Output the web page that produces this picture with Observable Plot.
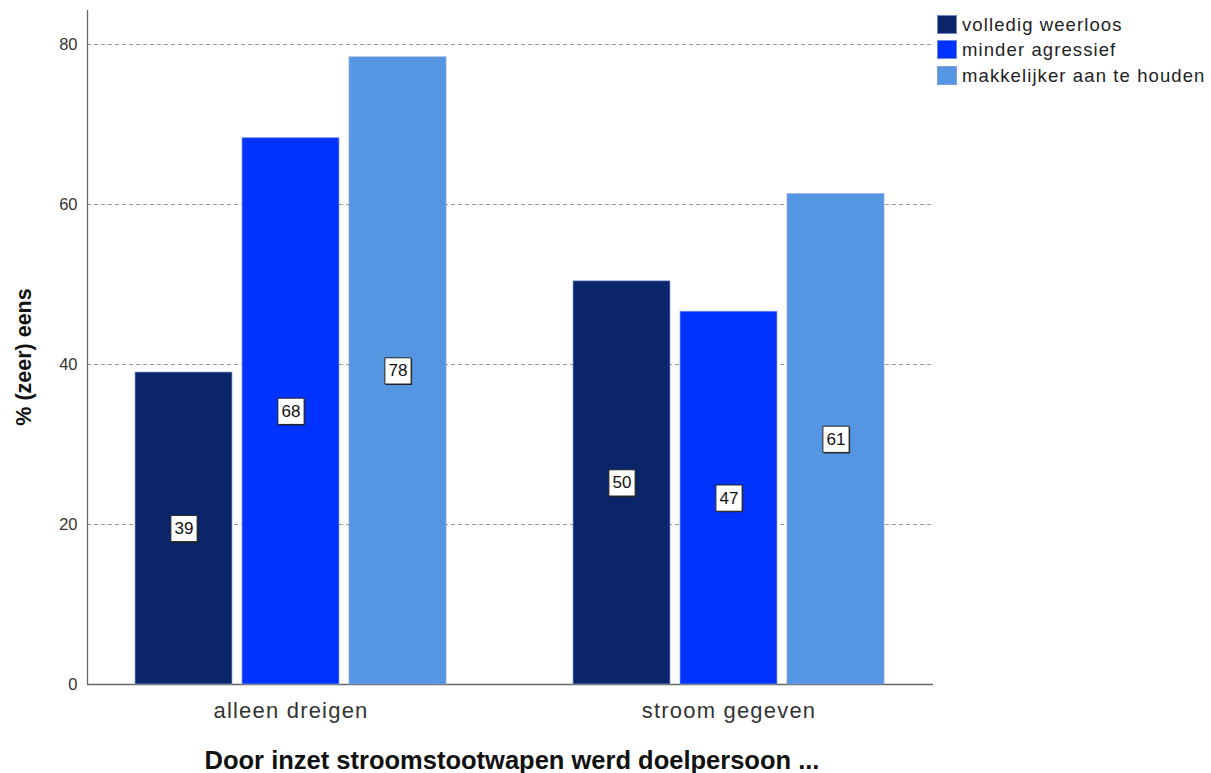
<!DOCTYPE html>
<html>
<head>
<meta charset="utf-8">
<script src="https://cdn.jsdelivr.net/npm/d3@7"></script>
<script src="https://cdn.jsdelivr.net/npm/@observablehq/plot@0.6"></script>
<style>
  html, body { margin: 0; padding: 0; background: #fff; }
  #wrap { position: relative; width: 1211px; height: 773px; font-family: "Liberation Sans", Arial, sans-serif; }
  #wrap svg { position: absolute; left: 0; top: 0; }
  .fgplot g[aria-label="fx-axis tick label"] text { letter-spacing: 1.2px; }
  .ylab { position: absolute; left: 24px; top: 357px; transform: translate(-50%, -50%) rotate(-90deg); font-weight: bold; font-size: 21.5px; color: #111; white-space: nowrap; }
  .xlab { position: absolute; left: 512px; top: 760px; transform: translate(-50%, -50%); font-weight: bold; font-size: 25.5px; color: #111; white-space: nowrap; }
  .legend { position: absolute; left: 937px; top: 0; font-size: 18.5px; letter-spacing: 1.1px; color: #222; }
  .legend .row { position: absolute; left: 0; height: 20px; display: flex; align-items: center; white-space: nowrap; }
  .legend .sw { width: 20px; height: 19px; margin-right: 5px; box-sizing: border-box; border: 1px solid rgba(140,160,220,0.8); }
  .legend .tx { position: relative; top: 1px; }
</style>
</head>
<body>
<div id="wrap"></div>
<script>
const groups = ["alleen dreigen", "stroom gegeven"];
const series = ["volledig weerloos", "minder agressief", "makkelijker aan te houden"];
const valuesAlleenDreigen = [39.0, 68.3, 78.4];
const valuesStroomGegeven = [50.4, 46.6, 61.3];
const colors = ["#0a2569", "#0033ff", "#5596e3"];
const yTicks = [0, 20, 40, 60, 80];
const yLabel = "% (zeer) eens";
const xLabel = "Door inzet stroomstootwapen werd doelpersoon ...";

const data = [];
[valuesAlleenDreigen, valuesStroomGegeven].forEach((vals, gi) => {
  vals.forEach((v, si) => data.push({group: groups[gi], series: series[si], value: v}));
});

const W = 1211, H = 773;
const margins = {marginLeft: 87, marginRight: 278, marginTop: 10, marginBottom: 89};
const font = '"Liberation Sans", Arial, sans-serif';
const yScale = {domain: [0, 84.25], axis: null};
const fmt = d3.format(".0f");

const wrap = document.getElementById("wrap");

// background: grid lines and axes
const bg = Plot.plot({
  width: W, height: H, ...margins,
  style: {fontFamily: font, background: "white", color: "#333"},
  x: {domain: [0, 1], axis: null},
  y: yScale,
  marks: [
    Plot.ruleY(yTicks.filter(d => d > 0), {y: d => d, stroke: "#9a9a9a", strokeDasharray: "4,3", strokeWidth: 1}),
    Plot.axisY(yTicks, {tickSize: 0, tickPadding: 10, fontSize: 16.5, label: null, fill: "#333"}),
    Plot.ruleX([0], {stroke: "#666", strokeWidth: 1.3}),
    Plot.ruleY([0], {stroke: "#666", strokeWidth: 1.3})
  ]
});
wrap.appendChild(bg);

// foreground: bars, labels, category axis
const fg = Plot.plot({
  width: W, height: H, ...margins,
  className: "fgplot",
  style: {fontFamily: font, background: "transparent", color: "#333"},
  fx: {domain: groups, paddingInner: 0.262, paddingOuter: 0.0957, label: null},
  x: {domain: series, paddingInner: 0.0926, paddingOuter: 0.0463, axis: null},
  y: yScale,
  color: {domain: series, range: colors},
  marks: [
    Plot.barY(data, {fx: "group", x: "series", y: "value", fill: "series", stroke: "#8ea4dc", strokeOpacity: 0.7, strokeWidth: 1}),
    Plot.dot(data, {fx: "group", x: "series", y: d => d.value / 2, symbol: "square", r: 14.8, fill: "#222", dx: 1, dy: 1}),
    Plot.dot(data, {fx: "group", x: "series", y: d => d.value / 2, symbol: "square", r: 14.8, fill: "white", stroke: "#222", strokeWidth: 1}),
    Plot.text(data, {fx: "group", x: "series", y: d => d.value / 2, text: d => fmt(d.value), fontSize: 17, fill: "#111"}),
    Plot.axisFx({anchor: "bottom", tickSize: 0, tickPadding: 18, fontSize: 22, label: null, fill: "#333"})
  ]
});
wrap.appendChild(fg);

const yl = document.createElement("div");
yl.className = "ylab"; yl.textContent = yLabel; wrap.appendChild(yl);
const xl = document.createElement("div");
xl.className = "xlab"; xl.textContent = xLabel; wrap.appendChild(xl);

const leg = document.createElement("div");
leg.className = "legend";
const rowTops = [14, 39, 65];
series.forEach((s, i) => {
  const row = document.createElement("div");
  row.className = "row";
  row.style.top = rowTops[i] + "px";
  const sw = document.createElement("div");
  sw.className = "sw"; sw.style.background = colors[i];
  const t = document.createElement("span");
  t.className = "tx";
  t.textContent = s;
  row.appendChild(sw); row.appendChild(t);
  leg.appendChild(row);
});
wrap.appendChild(leg);
</script>
</body>
</html>
